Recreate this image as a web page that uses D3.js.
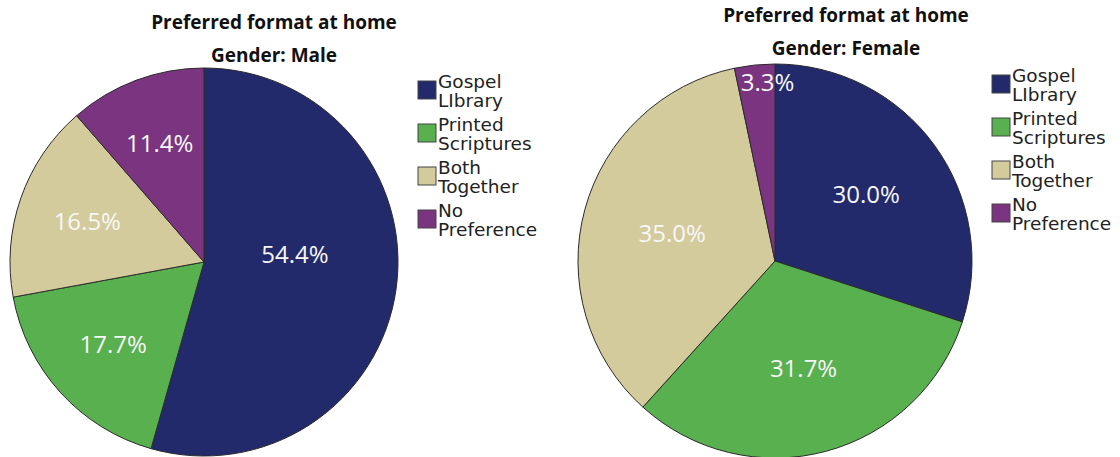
<!DOCTYPE html>
<html>
<head>
<meta charset="utf-8">
<script src="https://cdn.jsdelivr.net/npm/d3@7"></script>
<style>
  body { margin: 0; background: #fff; }
  svg { display: block; }
</style>
</head>
<body>
<div id="chart"></div>
<script>
// categories and values
var categories = ["Gospel\nLIbrary", "Printed\nScriptures", "Both\nTogether", "No\nPreference"];
var maleValues = [54.4, 17.7, 16.5, 11.4];
var femaleValues = [30.0, 31.7, 35.0, 3.3];
var titles = ["Preferred format at home", "Preferred format at home"];
var subtitles = ["Gender: Male", "Gender: Female"];

var colors = ["#222a6b", "#59b04f", "#d4cb9c", "#7b3580"];

var width = 1120, height = 457;

var svg = d3.select("#chart").append("svg")
    .attr("width", width)
    .attr("height", height);

var color = d3.scaleOrdinal().domain(d3.range(categories.length)).range(colors);

// one panel per gender
var panels = [
    { values: maleValues, title: titles[0], sub: subtitles[0], cx: 204, cy: 262, r: 194,
      titleX: 274, titleY: 29, subY: 62, legX: 418, legY: 88 },
    { values: femaleValues, title: titles[1], sub: subtitles[1], cx: 775, cy: 261, r: 197,
      titleX: 846, titleY: 22, subY: 55, legX: 992, legY: 82 }
];

panels.forEach(function (p) {
    drawPanel(p);
});

function drawPanel(p) {
    var g = svg.append("g");

    // titles
    g.append("text")
        .attr("x", p.titleX)
        .attr("y", p.titleY)
        .attr("text-anchor", "middle")
        .style("font-family", "Open Sans")
        .style("font-weight", "bold")
        .style("font-size", "19px")
        .style("fill", "#111")
        .text(p.title);

    g.append("text")
        .attr("x", p.titleX)
        .attr("y", p.subY)
        .attr("text-anchor", "middle")
        .style("font-family", "Open Sans")
        .style("font-weight", "bold")
        .style("font-size", "19px")
        .style("fill", "#111")
        .text(p.sub);

    var pie = d3.pie().sort(null).value(function (d) { return d; });
    var arc = d3.arc().innerRadius(0).outerRadius(p.r);
    var arcs = pie(p.values);

    var pieG = g.append("g")
        .attr("transform", "translate(" + p.cx + "," + p.cy + ")");

    pieG.selectAll("path.slice")
        .data(arcs)
        .enter().append("path")
        .attr("class", "slice")
        .attr("d", arc)
        .attr("fill", function (d, i) { return color(i); })
        .attr("stroke", "#2b2b2b")
        .attr("stroke-width", 1);

    // labels near the slice centroid, pushed out a bit for tiny/huge slices
    pieG.selectAll("text.pct")
        .data(arcs)
        .enter().append("text")
        .attr("class", "pct")
        .attr("transform", function (d) {
            var a = d.endAngle - d.startAngle;
            var dist = 4 * p.r * Math.sin(a / 2) / (3 * a);
            if (a < 0.3) dist = p.r * 0.91;
            dist = Math.max(dist, p.r * 0.47);
            var mid = (d.startAngle + d.endAngle) / 2;
            if (a < 0.3) mid = d.endAngle - 0.2 * a;
            // the big slice label sits a little nearer the horizontal in the original
            if (a > Math.PI) mid = Math.PI / 2 - 0.08;
            return "translate(" + (Math.sin(mid) * dist) + "," + (-Math.cos(mid) * dist) + ")";
        })
        .attr("dy", "0.36em")
        .attr("text-anchor", "middle")
        .style("font-family", "Open Sans")
        .style("font-size", "24px")
        .style("fill", "#f7f7f7")
        .text(function (d) { return d.data.toFixed(1) + "%"; });

    // legend
    var leg = g.append("g")
        .attr("transform", "translate(" + p.legX + "," + p.legY + ")");

    var item = leg.selectAll("g.item")
        .data(categories)
        .enter().append("g")
        .attr("class", "item")
        .attr("transform", function (d, i) { return "translate(0," + (i * 43) + ")"; });

    item.append("rect")
        .attr("x", 0)
        .attr("y", -7)
        .attr("width", 18)
        .attr("height", 18)
        .attr("fill", function (d, i) { return color(i); })
        .attr("stroke", "#444")
        .attr("stroke-width", 1);

    item.append("text")
        .attr("x", 20)
        .attr("y", 0)
        .style("font-family", "DejaVu Sans")
        .style("font-size", "18.5px")
        .style("fill", "#222")
        .selectAll("tspan")
        .data(function (d) { return d.split("\n"); })
        .enter().append("tspan")
        .attr("x", 20)
        .attr("dy", function (d, i) { return i === 0 ? 0 : 19; })
        .text(function (d) { return d; });
}
</script>
</body>
</html>
